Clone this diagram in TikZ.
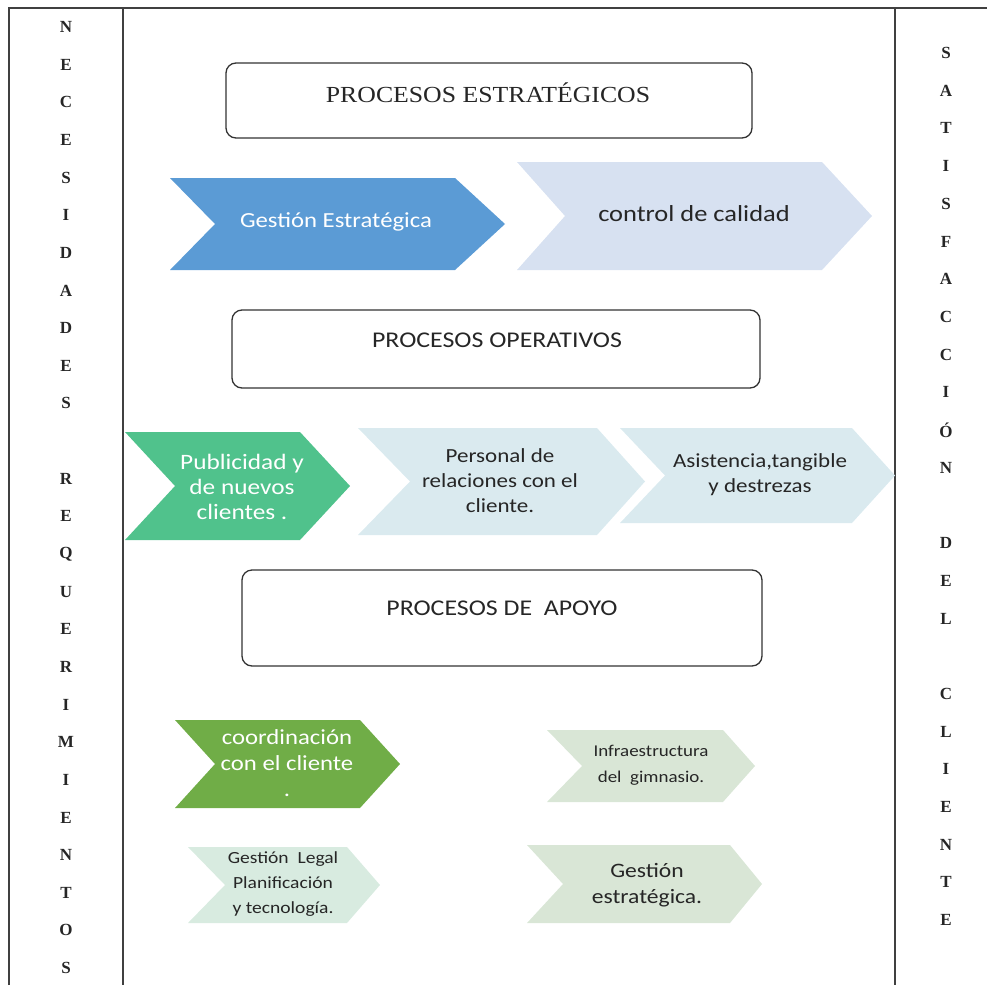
\documentclass[tikz,border=0pt]{standalone}
\usepackage{fontspec}
\setmainfont{Carlito}[FakeStretch=1.15]
\newfontfamily\timesf{Liberation Serif}
\newfontfamily\titlef{Liberation Serif}[FakeStretch=1.12]
\definecolor{azul}{HTML}{5B9BD5}
\definecolor{azulclaro}{HTML}{D7E1F1}
\definecolor{verde}{HTML}{50C28C}
\definecolor{celeste}{HTML}{DAEAEF}
\definecolor{verdeosc}{HTML}{70AD47}
\definecolor{verdepal}{HTML}{D8EBE0}
\definecolor{gris}{HTML}{D9E6D6}
\tikzset{
  frame/.style={line width=1.6pt,draw=black!75},
  procbox/.style={draw=black!80,line width=1.3pt,rounded corners=10pt},
  boxtitle/.style={text=black!85,font=\fontsize{22.5}{26}\selectfont},
  chevtext/.style={align=center,text=black!85,font=\fontsize{20}{25}\selectfont},
  letra/.style={text=black!85,font=\timesf\bfseries\fontsize{17}{20}\selectfont}
}
% style, x, y, width, height, notch, tip
\newcommand{\chev}[7]{%
  \fill[#1](#2,#3)--++(#4-#7,0)--++(#7,#5/2)--++(-#7,#5/2)--++(-#4+#7,0)--++(#6,-#5/2)--cycle;}
\begin{document}
\begin{tikzpicture}[x=1pt,y=-1pt]
\useasboundingbox (0,0) rectangle (987,985);
%frame
\draw[frame](9,985)--(9,8)--(987,8);
\draw[frame](123,8)--(123,985);
\draw[frame](895,8)--(895,985);
%side letters
\foreach \l [count=\i from 0] in {N,E,C,E,S,I,D,A,D,E,S,{},R,E,Q,U,E,R,I,M,I,E,N,T,O,S}
  \node[letra] (nec\i) at (66,27+37.64*\i) {\l};
\foreach \l [count=\i from 0] in {S,A,T,I,S,F,A,C,C,I,Ó,N,{},D,E,L,{},C,L,I,E,N,T,E}
  \node[letra] (sat\i) at (946,53+37.7*\i) {\l};
%estrategicos
\draw[procbox](226,63) rectangle (752,138);
\node[boxtitle,font=\titlef\fontsize{23}{27}\selectfont] (estr) at (488,93) {PROCESOS ESTRATÉGICOS};
\chev{azul}{170}{178}{335}{92}{45}{50}
\chev{azulclaro}{517}{162}{355}{108}{48}{50}
\node[chevtext,text=white,font=\fontsize{21.5}{25}\selectfont] (gestestr) at (336,222) {Gestión Estratégica};
\node[chevtext,font=\fontsize{23}{25}\selectfont] (calidad) at (694,214) {control de calidad};
%operativos
\draw[procbox](232,310) rectangle (760,388);
\node[boxtitle] (oper) at (497,340) {PROCESOS OPERATIVOS};
\chev{verde}{125}{432}{225}{108}{50}{50}
\chev{celeste}{358}{428}{287}{107}{52}{48}
\chev{celeste}{620}{428}{275}{95}{45}{43}
\node[chevtext,text=white,font=\fontsize{22}{25}\selectfont] (publi) at (242,487) {Publicidad y\\de nuevos\\clientes .};
\node[chevtext] (personal) at (500,481) {Personal de\\relaciones con el\\cliente.};
\node[chevtext] (asist) at (760,475) {Asistencia,tangible\\y destrezas};
%apoyo
\draw[procbox](242,570) rectangle (762,666);
\node[boxtitle] (apoyo) at (502,608) {PROCESOS DE~\ APOYO};
\chev{verdeosc}{175}{720}{225}{88}{40}{40}
\chev{verdepal}{188}{847}{192}{76}{37}{33}
\chev{gris}{547}{730}{208}{72}{35}{32}
\chev{gris}{527}{845}{235}{78}{36}{32}
\node[chevtext,text=white,font=\fontsize{21.5}{26}\selectfont] (coord) at (287,763) {coordinación\\con el cliente\\.};
\node[chevtext,font=\fontsize{17}{25}\selectfont] (legal) at (283,884) {Gestión~\ Legal\\Planificación\\y tecnología.};
\node[chevtext,font=\fontsize{16.5}{26}\selectfont] (infra) at (651,765) {Infraestructura\\del~\ gimnasio.};
\node[chevtext,font=\fontsize{20.5}{26}\selectfont] (gestion) at (647,885) {Gestión\\estratégica.};
\end{tikzpicture}
\end{document}
